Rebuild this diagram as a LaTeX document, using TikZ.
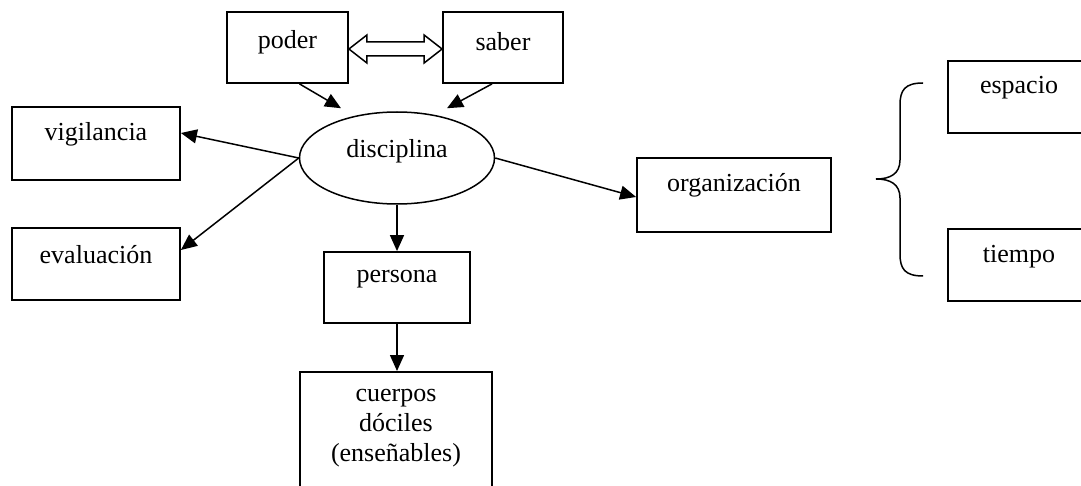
\documentclass[tikz,border=0pt]{standalone}
\usepackage{fontspec}
\setmainfont{Liberation Serif}
\usetikzlibrary{arrows.meta,shapes.geometric,calc}

\begin{document}
\begin{tikzpicture}[x=1pt,y=-1pt,
  every node/.style={font=\fontsize{26}{30}\selectfont},
  box/.style={draw,line width=1.8pt,inner sep=0pt},
  link/.style={line width=1.5pt,-{Triangle[length=16pt,width=14pt]}},
]
\useasboundingbox (0,0) rectangle (1081,486);
\clip (0,0) rectangle (1081,486);

% top pair
\node[box,minimum width=121pt,minimum height=71pt] (poder) at (287.5,47.5) {};
\node at (287.5,42) {poder};
\node[box,minimum width=120pt,minimum height=71pt] (saber) at (503,47.5) {};
\node at (503,42) {saber};

% central ellipse
\node[draw,ellipse,line width=1.5pt,minimum width=195pt,minimum height=92pt,inner sep=0pt] (disc) at (397,158) {};
\node at (397,151) {disciplina};

% left boxes
\node[box,minimum width=168pt,minimum height=73pt] (vig) at (96,143.5) {};
\node at (96,134) {vigilancia};
\node[box,minimum width=168pt,minimum height=72pt] (eval) at (96,264) {};
\node at (96,255) {evaluación};

% right side
\node[box,minimum width=194pt,minimum height=74pt] (org) at (734,195) {};
\node at (734,185) {organización};

\node[box,minimum width=146pt,minimum height=71pt] (pers) at (397,287.5) {};
\node at (397,279) {persona};

\node[box,minimum width=192pt,minimum height=140pt,anchor=north] (cuer) at (396,371) {};
\node[align=center,anchor=north] at (396,386) {cuerpos\\dóciles\\(enseñables)};

\node[box,minimum width=160pt,minimum height=72pt,anchor=north west] (esp) at (947,60) {};
\node at (1019,88) {espacio};
\node[box,minimum width=160pt,minimum height=72pt,anchor=north west] (tiem) at (947,228) {};
\node at (1019,257) {tiempo};

% brace
\coordinate (bt) at (923,83);
\coordinate (bb) at (923,276);
\draw[line width=1.5pt] (bt) .. controls (905,83) and (900,90) .. (900,105)
  -- (900,160) .. controls (900,174) and (890,179) .. (876,179)
  .. controls (890,179) and (900,184) .. (900,198)
  -- (900,254) .. controls (900,269) and (905,276) .. (bb);

% hollow double-headed block arrow between poder and saber
\coordinate (dl) at (poder.east |- 0,49);
\coordinate (dr) at (saber.west |- 0,49);
\draw[line width=1.5pt,line join=miter]
  (dl) -- ($(dl)+(18,-14)$) -- ($(dl)+(18,-7)$) -- ($(dr)+(-18,-7)$) -- ($(dr)+(-18,-14)$)
  -- (dr) -- ($(dr)+(-18,14)$) -- ($(dr)+(-18,7)$) -- ($(dl)+(18,7)$) -- ($(dl)+(18,14)$) -- cycle;

% arrows
\draw[link] ($(poder.south)+(12,0)$) -- ($(disc.north)+(-56,-3)$);
\draw[link] ($(saber.south)+(-11,0)$) -- ($(disc.north)+(50,-3)$);
\draw[link] (disc.west) -- (vig.east |- 0,133);
\draw[link] (disc.west) -- (eval.east |- 0,250);
\draw[link] (disc.east) -- (org.west |- 0,197);
\draw[link] (disc.south) -- (pers.north);
\draw[link] (pers.south) -- (pers.south |- cuer.north);
\end{tikzpicture}
\end{document}
